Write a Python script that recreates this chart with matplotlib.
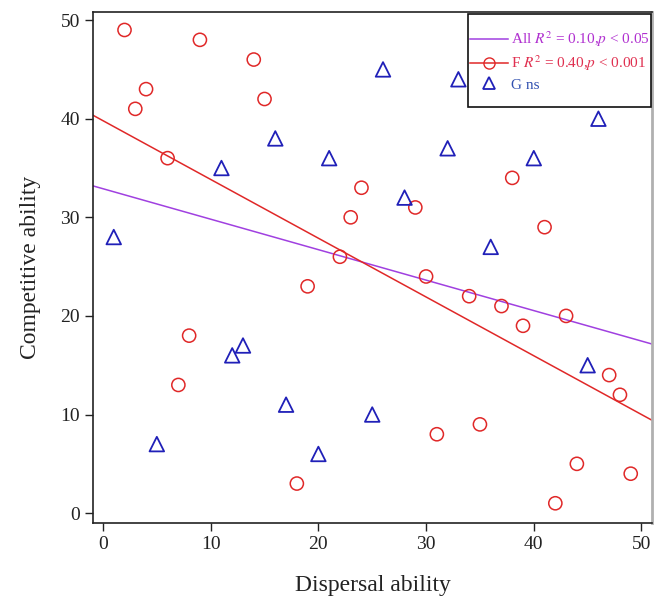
import matplotlib
matplotlib.use("Agg")
import matplotlib.pyplot as plt
from matplotlib.lines import Line2D
from matplotlib.patches import Rectangle
import numpy as np

plt.rcParams["font.family"] = ["Liberation Serif", "DejaVu Serif"]
plt.rcParams["mathtext.fontset"] = "stix"

# F group (red circles)
f_x = [2, 9, 14, 4, 3, 15, 6, 24, 38, 29, 23, 41, 22, 30, 34, 37, 39, 43, 19,
       8, 7, 47, 48, 31, 35, 44, 49, 18, 42]
f_y = [49, 48, 46, 43, 41, 42, 36, 33, 34, 31, 30, 29, 26, 24, 22, 21, 19, 20, 23,
       18, 13, 14, 12, 8, 9, 5, 4, 3, 1]

# G group (blue triangles)
g_x = [1, 5, 11, 12, 13, 16, 17, 20, 21, 25, 26, 28, 33, 32, 36, 40, 45, 46]
g_y = [28, 7, 35, 16, 17, 38, 11, 6, 36, 10, 45, 32, 44, 37, 27, 36, 15, 40]

# fitted lines: intercept, slope
all_fit = (32.9, -0.309)
f_fit = (39.8, -0.596)

purple = "#A040E0"
red = "#E02828"
blue = "#2020B8"

fig = plt.figure(figsize=(6.64, 5.96), dpi=100)
ax = fig.add_axes([0.140, 0.1225, 0.842, 0.857])

xl = np.array([-0.93, 50.98])
ax.plot(xl, all_fit[0] + all_fit[1] * xl, color=purple, lw=1.1)
ax.plot(xl, f_fit[0] + f_fit[1] * xl, color=red, lw=1.1)

ax.scatter(f_x, f_y, s=90, facecolors="none", edgecolors=red, linewidths=1.1, zorder=3)
ax.scatter(g_x, g_y, s=110, marker="^", facecolors="none", edgecolors=blue,
           linewidths=1.3, zorder=3)

ax.set_xlim(-0.93, 50.98)
ax.set_ylim(-1.0, 50.8)
ax.set_xticks([0, 10, 20, 30, 40, 50])
ax.set_yticks([0, 10, 20, 30, 40, 50])
ax.tick_params(direction="out", length=6, width=1, labelsize=14, colors="#222222")
ax.spines["right"].set_color("#B0B0B0")
ax.spines["right"].set_linewidth(2)
for s in ["left", "bottom", "top"]:
    ax.spines[s].set_color("#222222")
    ax.spines[s].set_linewidth(1.2)

ax.set_xlabel("Dispersal ability", fontsize=17, labelpad=16, color="#222222")
ax.set_ylabel("Competitive ability", fontsize=17, labelpad=14, color="#222222")

# legend box drawn separately so it can be taller than the entries need
box = Rectangle((0.671, 0.814), 0.327, 0.182, transform=ax.transAxes,
                facecolor="white", edgecolor="#111111", lw=1.2, zorder=4)
ax.add_patch(box)

handles = [
    Line2D([], [], color=purple, lw=1.1),
    Line2D([], [], color=red, lw=1.1, marker="o", markerfacecolor="none", markersize=8),
    Line2D([], [], color=blue, lw=0, marker="^", markerfacecolor="none", markersize=8,
           markeredgewidth=1.3),
]
labels = [
    "All $R^2$ = 0.10,$p$ < 0.05",
    "F $R^2$ = 0.40,$p$ < 0.001",
    "G ns",
]
leg = ax.legend(handles, labels, loc="upper left", fontsize=11, frameon=False,
                borderpad=0, borderaxespad=0, handlelength=2.5, handletextpad=0.2,
                labelspacing=0.3, bbox_to_anchor=(0.674, 0.966))
leg.set_zorder(5)
for txt, c in zip(leg.get_texts(), ["#B030D0", "#E03050", "#3050B0"]):
    txt.set_color(c)

fig.savefig("out.png", dpi=100)
